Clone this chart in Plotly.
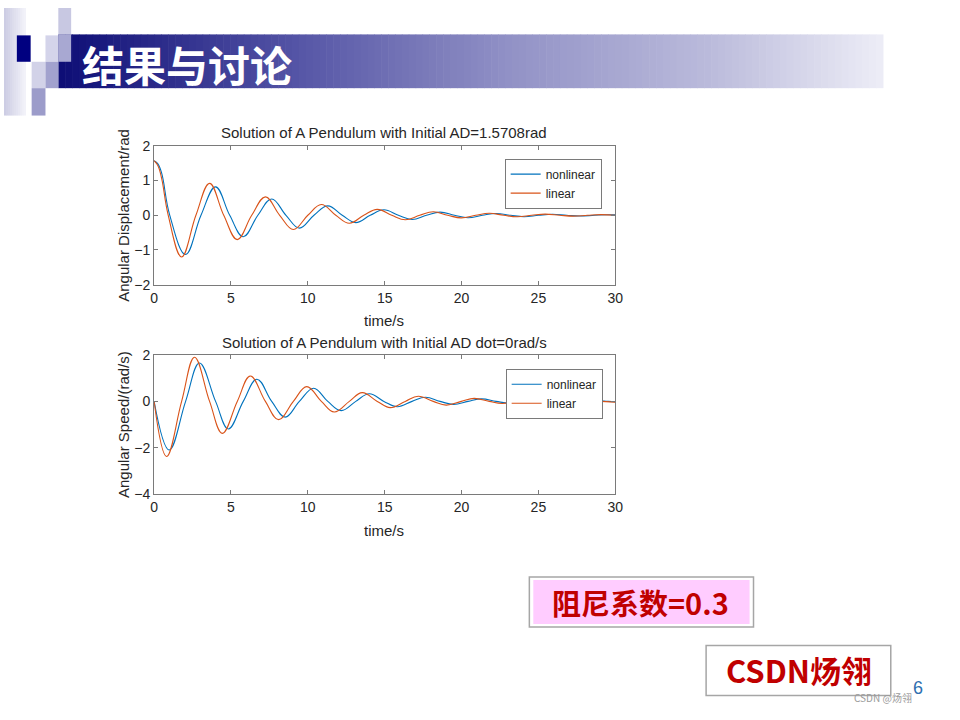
import plotly.graph_objects as go

# ---------------- data ----------------
x_ticks = [0, 5, 10, 15, 20, 25, 30]
y1_ticks = [-2, -1, 0, 1, 2]
y2_ticks = [-4, -2, 0, 2]

# Angular displacement, nonlinear model (blue)
t_ad_nonlin = [0, 0.25, 0.5, 1.02, 2.05, 3.05, 4.0, 4.92, 5.8, 6.75, 7.65, 8.58, 9.45, 10.4, 11.3,
               12.24, 13.12, 14.06, 14.95, 15.89, 16.78, 17.72, 18.6, 19.54, 20.42, 21.36,
               22.25, 23.19, 24.07, 25.01, 25.9, 26.84, 27.72, 28.66, 29.55, 30]
ad_nonlin = [1.5708, 1.48, 1.20, 0, -1.13, 0, 0.82, 0, -0.62, 0, 0.47, 0, -0.37, 0, 0.27,
             0, -0.21, 0, 0.16, 0, -0.12, 0, 0.09, 0, -0.07, 0,
             0.05, 0, -0.04, 0, 0.03, 0, -0.022, 0, 0.017, 0.012]

# Angular displacement, linear model (orange)
t_ad_lin = [0, 0.25, 0.5, 0.92, 1.79, 2.72, 3.61, 4.53, 5.41, 6.35, 7.24, 8.17, 9.06, 10.0, 10.88,
            11.82, 12.70, 13.64, 14.52, 15.46, 16.34, 17.28, 18.16, 19.1, 19.98, 20.92,
            21.8, 22.74, 23.62, 24.56, 25.44, 26.38, 27.26, 28.2, 29.08, 30]
ad_lin = [1.5708, 1.43, 1.04, 0, -1.20, 0, 0.92, 0, -0.70, 0, 0.53, 0, -0.41, 0, 0.31,
          0, -0.23, 0, 0.17, 0, -0.13, 0, 0.10, 0, -0.075, 0,
          0.057, 0, -0.043, 0, 0.033, 0, -0.025, 0, 0.019, 0.003]

# Angular speed, nonlinear model (blue)
t_sp_nonlin = [0, 0.98, 2.05, 2.95, 4.0, 4.83, 5.8, 6.69, 7.65, 8.53, 9.45, 10.38, 11.3,
               12.17, 13.12, 14.0, 14.95, 15.82, 16.78, 17.65, 18.6, 19.48, 20.42, 21.3,
               22.25, 23.12, 24.07, 24.95, 25.9, 26.77, 27.72, 28.6, 29.55, 30]
sp_nonlin = [0, -2.10, 0, 1.66, 0, -1.19, 0, 0.96, 0, -0.68, 0, 0.57, 0,
             -0.40, 0, 0.33, 0, -0.23, 0, 0.18, 0, -0.13, 0, 0.11,
             0, -0.08, 0, 0.06, 0, -0.045, 0, 0.035, 0, -0.015]

# Angular speed, linear model (orange)
t_sp_lin = [0, 0.81, 1.79, 2.63, 3.61, 4.44, 5.41, 6.26, 7.24, 8.10, 9.06, 9.93, 10.88,
            11.72, 12.70, 13.54, 14.52, 15.36, 16.34, 17.18, 18.16, 19.0, 19.98, 20.82,
            21.8, 22.64, 23.62, 24.46, 25.44, 26.28, 27.26, 28.1, 29.08, 30]
sp_lin = [0, -2.38, 0, 1.91, 0, -1.38, 0, 1.10, 0, -0.79, 0, 0.64, 0,
          -0.46, 0, 0.38, 0, -0.27, 0, 0.22, 0, -0.16, 0, 0.13,
          0, -0.09, 0, 0.07, 0, -0.05, 0, 0.04, 0, -0.03]

series_names = ["nonlinear", "linear"]
title_top = "Solution of A Pendulum with Initial AD=1.5708rad"
title_bot = "Solution of A Pendulum with Initial AD dot=0rad/s"
ytitle_top = "Angular Displacement/rad"
ytitle_bot = "Angular Speed/(rad/s)"
xtitle = "time/s"
slide_title = "结果与讨论"
damping_text = "阻尼系数=0.3"
brand_text = "CSDN炀翎"
page_no = "6"
watermark = "CSDN @炀翎"

# ---------------- styling ----------------
W, H = 960, 720
BLUE = "#0072BD"
ORANGE = "#D95319"
AX = "#7a7a7a"
TXT = "#262626"
FONT = "Liberation Sans, Arial, sans-serif"
CJK = "Noto Sans CJK SC, sans-serif"


def px_x(p):
    return p / W


def px_y(p):
    return 1 - p / H


fig = go.Figure()

line_style = dict(width=1.1, shape="spline", smoothing=1.15)
fig.add_trace(go.Scatter(x=t_ad_nonlin, y=ad_nonlin, name=series_names[0], mode="lines",
                         line=dict(color=BLUE, **line_style),
                         xaxis="x", yaxis="y", legend="legend"))
fig.add_trace(go.Scatter(x=t_ad_lin, y=ad_lin, name=series_names[1], mode="lines",
                         line=dict(color=ORANGE, **line_style),
                         xaxis="x", yaxis="y", legend="legend"))
fig.add_trace(go.Scatter(x=t_sp_nonlin, y=sp_nonlin, name=series_names[0], mode="lines",
                         line=dict(color=BLUE, **line_style),
                         xaxis="x2", yaxis="y2", legend="legend2"))
fig.add_trace(go.Scatter(x=t_sp_lin, y=sp_lin, name=series_names[1], mode="lines",
                         line=dict(color=ORANGE, **line_style),
                         xaxis="x2", yaxis="y2", legend="legend2"))

xdom = [px_x(152), px_x(619)]
axis_common = dict(showgrid=False, zeroline=False, showline=True, linecolor=AX, linewidth=1,
                   mirror="ticks", ticks="inside", ticklen=4, tickcolor=AX, tickwidth=1,
                   tickfont=dict(family=FONT, size=14, color=TXT))

fig.update_layout(
    width=W, height=H,
    autosize=False,
    margin=dict(l=0, r=0, t=0, b=0),
    paper_bgcolor="white", plot_bgcolor="white",
    showlegend=True,
    xaxis=dict(domain=xdom, range=[0, 30], tickvals=x_ticks, anchor="y", **axis_common),
    yaxis=dict(domain=[px_y(283), px_y(141)], range=[-2, 2], tickvals=y1_ticks, anchor="x",
               **axis_common),
    xaxis2=dict(domain=xdom, range=[0, 30], tickvals=x_ticks, anchor="y2", **axis_common),
    yaxis2=dict(domain=[px_y(497), px_y(355)], range=[-4, 2], tickvals=y2_ticks, anchor="x2",
                **axis_common),
    legend=dict(x=px_x(507), y=px_y(154), xanchor="left", yanchor="top",
                bgcolor="white", bordercolor=AX, borderwidth=1,
                font=dict(family=FONT, size=12, color=TXT), itemwidth=30, tracegroupgap=0),
    legend2=dict(x=px_x(508), y=px_y(369), xanchor="left", yanchor="top",
                 bgcolor="white", bordercolor=AX, borderwidth=1,
                 font=dict(family=FONT, size=12, color=TXT), itemwidth=30, tracegroupgap=0),
)

shapes = []
annotations = []

# ----- slide header: gradient bar -----
stops = [(0.0, (14, 14, 118)), (0.3, (88, 88, 168)), (0.55, (146, 146, 198)),
         (0.8, (188, 188, 220)), (1.0, (236, 236, 246))]


def grad(f):
    for (f0, c0), (f1, c1) in zip(stops[:-1], stops[1:]):
        if f0 <= f <= f1:
            k = (f - f0) / (f1 - f0)
            return "rgb(%d,%d,%d)" % tuple(round(a + (b - a) * k) for a, b in zip(c0, c1))
    return "rgb(%d,%d,%d)" % stops[-1][1]


x0, x1, nseg = 55, 890, 120
step = (x1 - x0) / nseg
for i in range(nseg):
    xa = x0 + i * step
    shapes.append(dict(type="rect", xref="paper", yref="paper",
                       x0=px_x(xa), x1=px_x(xa + step + 0.6), y0=px_y(82), y1=px_y(27),
                       fillcolor=grad(i / (nseg - 1)), line=dict(width=0), layer="below"))

# left decorative squares
for xa in range(0, 22, 2):
    f = xa / 22
    c = tuple(round(a + (b - a) * f) for a, b in zip((205, 205, 228), (246, 246, 251)))
    shapes.append(dict(type="rect", xref="paper", yref="paper", x0=px_x(xa), x1=px_x(xa + 2.3),
                       y0=px_y(110), y1=px_y(0), fillcolor="rgb(%d,%d,%d)" % c,
                       line=dict(width=0), layer="below"))
squares = [
    (55, 68, 0, 27, "#c8c8e2"),
    (13, 27, 28, 55, "#000080"),
    (42, 55, 28, 55, "#d4d4ea"),
    (55, 68, 27, 55, "#a8a8d2"),
    (28, 42, 55, 82, "#d2d2e8"),
    (42, 55, 55, 82, "#a2a2ce"),
    (28, 42, 82, 110, "#9c9cca"),
]
for xa, xb, ya, yb, col in squares:
    shapes.append(dict(type="rect", xref="paper", yref="paper", x0=px_x(xa), x1=px_x(xb),
                       y0=px_y(yb), y1=px_y(ya), fillcolor=col, line=dict(width=0),
                       layer="below"))

annotations.append(dict(text="<b>" + slide_title + "</b>", xref="paper", yref="paper",
                        x=px_x(77), y=px_y(57), xanchor="left", yanchor="middle",
                        showarrow=False, font=dict(family=CJK, size=42, color="white")))

# ----- chart titles / axis titles -----
for txt, yy in [(title_top, 127), (title_bot, 342)]:
    annotations.append(dict(text=txt, xref="paper", yref="paper", x=px_x(385), y=px_y(yy),
                            xanchor="center", yanchor="middle", showarrow=False,
                            font=dict(family=FONT, size=15, color=TXT)))
for yy in [320, 534]:
    annotations.append(dict(text=xtitle, xref="paper", yref="paper", x=px_x(385), y=px_y(yy),
                            xanchor="center", yanchor="middle", showarrow=False,
                            font=dict(family=FONT, size=15, color=TXT)))
for txt, yy in [(ytitle_top, 212), (ytitle_bot, 426)]:
    annotations.append(dict(text=txt, xref="paper", yref="paper", x=px_x(121), y=px_y(yy),
                            xanchor="center", yanchor="middle", showarrow=False, textangle=-90,
                            font=dict(family=FONT, size=15, color=TXT)))

# ----- text boxes -----
shapes.append(dict(type="rect", xref="paper", yref="paper", x0=px_x(532), x1=px_x(759),
                   y0=px_y(633), y1=px_y(582), fillcolor="white",
                   line=dict(color="#a6a6a6", width=1.5)))
shapes.append(dict(type="rect", xref="paper", yref="paper", x0=px_x(536), x1=px_x(755),
                   y0=px_y(630), y1=px_y(585), fillcolor="#ffccff", line=dict(width=0)))
annotations.append(dict(text="<b>" + damping_text + "</b>", xref="paper", yref="paper",
                        x=px_x(645), y=px_y(608), xanchor="center", yanchor="middle",
                        showarrow=False, font=dict(family=CJK, size=29, color="#c00000")))

shapes.append(dict(type="rect", xref="paper", yref="paper", x0=px_x(711), x1=px_x(898),
                   y0=px_y(703), y1=px_y(652), fillcolor="white",
                   line=dict(color="#a6a6a6", width=1.5)))
annotations.append(dict(text="<b>" + brand_text + "</b>", xref="paper", yref="paper",
                        x=px_x(805), y=px_y(677), xanchor="center", yanchor="middle",
                        showarrow=False, font=dict(family=CJK, size=31, color="#c00000")))

annotations.append(dict(text=page_no, xref="paper", yref="paper", x=px_x(926), y=px_y(695),
                        xanchor="center", yanchor="middle", showarrow=False,
                        font=dict(family=FONT, size=18, color="#2f6fb0")))
annotations.append(dict(text=watermark, xref="paper", yref="paper", x=px_x(922), y=px_y(705),
                        xanchor="right", yanchor="middle", showarrow=False,
                        font=dict(family=CJK, size=10, color="#9a9a9a")))

fig.update_layout(shapes=shapes, annotations=annotations)

pin_js = (
    "document.documentElement.style.margin='0';"
    "document.documentElement.style.padding='0';"
    "document.body.style.margin='0';document.body.style.padding='0';"
    "document.body.style.overflow='hidden';"
    "var gd=document.querySelector('.plotly-graph-div');"
    "gd.style.position='absolute';gd.style.left='0px';gd.style.top='0px';"
)
fig.write_html("out.html", config={"displayModeBar": False}, post_script=pin_js)
